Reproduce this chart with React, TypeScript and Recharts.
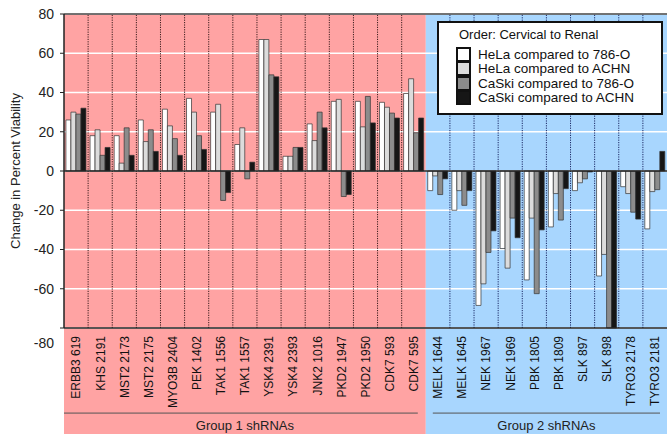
import { BarChart, Bar, XAxis, YAxis, CartesianGrid, ReferenceArea, ReferenceLine, Legend } from 'recharts';

const categories = [
    'ERBB3 619', 'KHS 2191', 'MST2 2173', 'MST2 2175', 'MYO3B 2404', 'PEK 1402', 'TAK1 1556', 'TAK1 1557',
    'YSK4 2391', 'YSK4 2393', 'JNK2 1016', 'PKD2 1947', 'PKD2 1950', 'CDK7 593', 'CDK7 595',
    'MELK 1644', 'MELK 1645', 'NEK 1967', 'NEK 1969', 'PBK 1805', 'PBK 1809', 'SLK 897', 'SLK 898', 'TYRO3 2178', 'TYRO3 2181',
];
const helaVs786 = [26, 18, 18, 26, 31.5, 37, 30, 13.5, 67, 7.5, 24, 35.5, 35.5, 35, 39.5, -10, -20, -68.5, -39.5, -55.5, -28.5, -10, -53.5, -8, -29.5];
const helaVsAchn = [30, 21, 4, 15, 23, 30, 34, 22, 67, 7.5, 15.5, 36.5, 22.5, 32.5, 47, -2.5, -10, -57.5, -49.5, -24, -11.5, -6, -42.5, -11.5, -10.5];
const caskiVs786 = [29, 8, 22, 21, 16.5, 18, -15, -4, 49, 12, 30, -13, 38, 29.5, 19.5, -12, -17.5, -41.5, -24, -62.5, -25, -4, -80, -21, -9.5];
const caskiVsAchn = [32, 12, 8, 10, 8, 11, -11, 4.5, 48, 12, 22, -12, 24.5, 27, 27, -4, -10, -30.5, -34, -30, -9, -0.5, -80, -24.5, 10];

const groupNames = ['Group 1 shRNAs', 'Group 2 shRNAs'];
const groupSizes = [15, 10];
const yTicks = [-80, -60, -40, -20, 0, 20, 40, 60, 80];

const FONT = '"Liberation Sans", Arial, sans-serif';
const groupFills = ['#ffa3a3', '#a8d6fe'];
const groupDots = ['#3a1c1c', '#1c2a66'];
const ruleInsets = [[0, 8], [7, 7]];

const series = [
    { key: 'helaVs786', name: 'HeLa compared to 786-O', color: '#ffffff' },
    { key: 'helaVsAchn', name: 'HeLa compared to ACHN', color: '#dcdcdc' },
    { key: 'caskiVs786', name: 'CaSki compared to 786-O', color: '#8c8c8c' },
    { key: 'caskiVsAchn', name: 'CaSki compared to ACHN', color: '#161616' },
];

const data = categories.map((c, i) => ({
    name: c,
    helaVs786: helaVs786[i],
    helaVsAchn: helaVsAchn[i],
    caskiVs786: caskiVs786[i],
    caskiVsAchn: caskiVsAchn[i],
}));

// first / last category of each group
const groups = groupSizes.map((n, i) => {
    const start = groupSizes.slice(0, i).reduce((s, m) => s + m, 0);
    return { name: groupNames[i], first: categories[start], last: categories[start + n - 1], start, fill: groupFills[i], dots: groupDots[i], inset: ruleInsets[i] };
});

const YTick = ({ x, y, payload }: any) => (
    <text x={x} y={y + (payload.value === -80 ? 15 : 0)} dy="0.35em" textAnchor="end" fontSize={14} fontFamily={FONT} fill="#222">
        {payload.value}
    </text>
);

const CatTick = ({ x, y, payload }: any) => (
    <text transform={`translate(${x},${y}) rotate(-90)`} dy="0.36em" textAnchor="end" fontSize={12} fontFamily={FONT} fill="#111">
        {payload.value}
    </text>
);

const LegendBox = ({ payload }: any) => {
    const items = [...(payload || [])].sort(
        (a: any, b: any) => series.findIndex((s) => s.name === a.value) - series.findIndex((s) => s.name === b.value),
    );
    return (
        <div style={{ border: '2px solid #111', background: '#fff', boxSizing: 'border-box', height: 94, padding: '4px 0 0 17px', fontFamily: FONT, color: '#111' }}>
            <div style={{ fontSize: 13, marginBottom: 5, marginLeft: 3 }}>Order: Cervical to Renal</div>
            {items.map((p: any) => (
                <div key={p.value} style={{ display: 'flex', alignItems: 'center', height: 14.5, fontSize: 13.5 }}>
                    <span style={{ width: 11, height: 11, border: '2px solid #111', background: p.color, marginRight: 7, display: 'inline-block' }} />
                    {p.value}
                </div>
            ))}
        </div>
    );
};

export default function App() {
    return (
        <div style={{ position: 'absolute', left: 0, top: 0 }}>
            <BarChart width={667} height={434} data={data} margin={{ top: 14, right: 0, left: 0, bottom: 0 }} barCategoryGap="8%" barGap={0}>
                {groups.map((g) => (
                    <ReferenceArea key={g.name} x1={g.first} x2={g.last} y1={-134} y2={80} fill={g.fill} fillOpacity={1} stroke="none"
                        ifOverflow="visible" zIndex={-200}
                        label={{ value: g.name, position: 'insideBottom', offset: 4, fontSize: 13, fontFamily: FONT, fill: '#222' }} />
                ))}
                <CartesianGrid vertical={false} stroke="#ffffff" strokeWidth={1.5} />
                <XAxis dataKey="name" interval={0} height={106} tick={<CatTick />} tickLine={false} axisLine={{ stroke: '#222', strokeWidth: 1.5 }} tickMargin={2} />
                <YAxis domain={[-80, 80]} ticks={yTicks} width={64} tick={<YTick />} tickSize={4} tickMargin={6}
                    axisLine={{ stroke: '#222', strokeWidth: 1.5 }} tickLine={{ stroke: '#222' }}
                    label={{ value: 'Change in Percent  Viability', angle: -90, position: 'center', dx: -17, fontSize: 13, fontFamily: FONT, fill: '#222' }} />
                {groups.map((g, gi) =>
                    categories.slice(g.start + 1, g.start + groupSizes[gi]).map((c) => (
                        <ReferenceLine key={c} x={c} position="start" stroke={g.dots} strokeDasharray="1.2 1.2" strokeWidth={1} />
                    )),
                )}
                <ReferenceLine y={80} stroke="#444" strokeWidth={1.5} />
                <ReferenceLine y={0} stroke="#222" strokeWidth={1.5} />
                {groups.map((g) => (
                    <ReferenceArea key={g.name + '-rule'} x1={g.first} x2={g.last} y1={-123.1} y2={-123.6} ifOverflow="visible"
                        shape={(p: any) => (
                            <rect x={p.x + g.inset[0]} y={p.y} width={Math.max(0, p.width - g.inset[0] - g.inset[1])} height={1} fill="#555" />
                        )} />
                ))}
                <Legend layout="vertical" align="center" verticalAlign="middle" content={<LegendBox />}
                    wrapperStyle={{ left: 437, top: 21, width: 226, height: 94 }} />
                {series.map((s) => (
                    <Bar key={s.key} dataKey={s.key} name={s.name} fill={s.color} stroke="#333" strokeWidth={0.7} isAnimationActive={false} />
                ))}
            </BarChart>
        </div>
    );
}
